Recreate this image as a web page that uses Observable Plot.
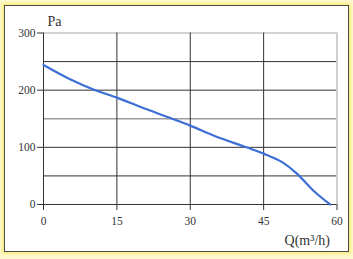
<!DOCTYPE html>
<html>
<head>
<meta charset="utf-8">
<script src="https://cdn.jsdelivr.net/npm/d3@7"></script>
<script src="https://cdn.jsdelivr.net/npm/@observablehq/plot@0.6"></script>
<style>
  html, body { margin: 0; padding: 0; }
  body { width: 353px; height: 259px; background: #fefad0; position: relative; overflow: hidden; }
  #frame { position: absolute; left: 4px; top: 5px; width: 343px; height: 245px; background: #fff;
           border: 1px solid #4a4a4a; box-shadow: 0 0 3px 2px #f8ec80; }
  #frame svg { position: absolute; left: 0; top: 0; font-family: "Liberation Serif", "DejaVu Serif", serif !important; }
  #frame svg text { font-family: "Liberation Serif", "DejaVu Serif", serif !important; }
</style>
</head>
<body>
<div id="frame"></div>
<script>
// Flow rate Q (m³/h) and pressure (Pa)
const flow     = [0,   5,   10.6, 15,  20,  26.3, 30,  35,  41.5, 45, 48.8, 51.8, 55.2, 58.6];
const pressure = [244, 221, 200,  187, 170, 150,  138, 120, 100,  89, 74,   54,   24,   0];
const xTicks = [0, 15, 30, 45, 60];
const yTicks = [0, 50, 100, 150, 200, 250, 300];
const yLabels = [0, 100, 200, 300];

const data = flow.map((q, i) => ({q, p: pressure[i]}));
const font = "Liberation Serif, DejaVu Serif, serif";

const chart = Plot.plot({
  width: 343,
  height: 245,
  marginLeft: 38,
  marginRight: 11.5,
  marginTop: 26.5,
  marginBottom: 47,
  style: {fontFamily: font, fontSize: "11px", color: "#333", background: "transparent"},
  x: {domain: [0, 60]},
  y: {domain: [0, 300]},
  marks: [
    Plot.ruleY(yTicks, {
      stroke: d => d === 300 ? "#c4c4c4" : d === 150 ? "#9a9a9a" : "#333",
      strokeWidth: d => d === 300 || d === 150 ? 1.6 : 1
    }),
    Plot.ruleX(xTicks, {
      stroke: d => d === 60 ? "#c4c4c4" : "#333",
      strokeWidth: d => d === 60 ? 1.6 : 1
    }),
    Plot.axisY({ticks: yLabels, tickSize: 6, tickPadding: 2, label: null, stroke: "#333", fill: "#333", fontSize: 11.5}),
    Plot.axisX({ticks: xTicks, tickSize: 6, tickPadding: 6, label: null, stroke: "#333", fill: "#333", fontSize: 11.5}),
    Plot.line(data, {x: "q", y: "p", curve: "monotone-x", stroke: "#3d6fd6", strokeWidth: 2.2}),
    Plot.text(["Pa"], {frameAnchor: "top-left", dx: 4, dy: -17, fontSize: 14, fill: "#333", textAnchor: "start"}),
    Plot.text(["Q(m³/h)"], {frameAnchor: "bottom-right", dx: -7, dy: 40, fontSize: 14, fill: "#333", textAnchor: "end"})
  ]
});
document.getElementById("frame").appendChild(chart);
</script>
</body>
</html>
